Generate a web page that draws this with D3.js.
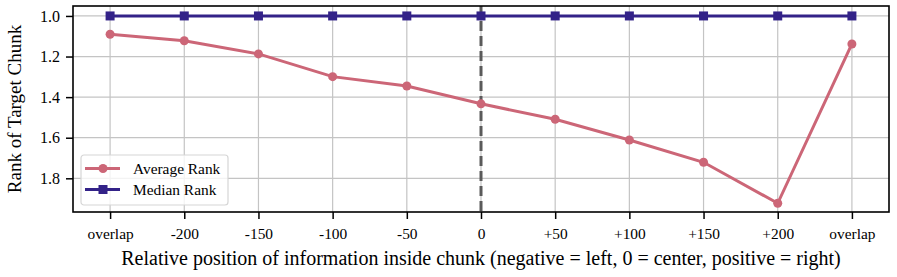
<!doctype html>
<head>
  <script src="https://cdnjs.cloudflare.com/ajax/libs/d3/7.8.5/d3.min.js"></script>
  <style>
    body { margin: 0; background: #fff; }
    svg { font-family: "Liberation Serif", "DejaVu Serif", serif; }
  </style>
</head>
<body>
  <svg class="chart" width="897" height="277"></svg>
  <script type="text/javascript">
    // chart data
    var positions = ["overlap", "-200", "-150", "-100", "-50", "0", "+50", "+100", "+150", "+200", "overlap"]
    var averageRank = [1.09, 1.122, 1.187, 1.299, 1.345, 1.433, 1.509, 1.611, 1.721, 1.923, 1.138]
    var medianRank = [1, 1, 1, 1, 1, 1, 1, 1, 1, 1, 1]
    var yTicks = [1.0, 1.2, 1.4, 1.6, 1.8]

    var plotL = 73, plotR = 889, plotT = 6, plotB = 212
    var svg = d3.select("svg")

    var x = d3.scaleLinear().domain([-0.5, positions.length - 0.5]).range([plotL, plotR])
    var y = d3.scaleLinear().domain([0.951, 1.966]).range([plotT, plotB])

    // grid
    svg.append("g").selectAll("line").data(yTicks).enter().append("line")
    .attr("x1", plotL).attr("x2", plotR)
    .attr("y1", d => y(d)).attr("y2", d => y(d))
    .style("stroke", "#c4c4c4").style("stroke-width", "1.2px")
    svg.append("g").selectAll("line").data(positions).enter().append("line")
    .attr("x1", (d, i) => x(i)).attr("x2", (d, i) => x(i))
    .attr("y1", plotT).attr("y2", plotB)
    .style("stroke", "#c4c4c4").style("stroke-width", "1.2px")

    // axes
    var xAxis = d3.axisBottom(x).tickValues(d3.range(positions.length))
    .tickFormat(i => positions[i]).tickSizeInner(7).tickSizeOuter(0).tickPadding(9)
    var gx = svg.append("g").attr("transform", "translate(0," + plotB + ")").call(xAxis)
    var yAxis = d3.axisLeft(y).tickValues(yTicks).tickFormat(d3.format(".1f"))
    .tickSizeInner(7).tickSizeOuter(0).tickPadding(6)
    var gy = svg.append("g").attr("transform", "translate(" + plotL + ",0)").call(yAxis)
    ;[gx, gy].forEach(g => {
      g.select(".domain").remove()
      g.selectAll(".tick line").style("stroke", "#000").style("stroke-width", "1.5px")
      g.selectAll("text").style("font-family", "Liberation Serif").style("font-size", "15.4px").style("fill", "#000")
    })
    gy.selectAll("text").style("font-size", "16px")

    // dashed center line
    svg.append("line")
    .attr("x1", x(5)).attr("x2", x(5)).attr("y1", plotT).attr("y2", plotB)
    .style("stroke", "#5a5a5a").style("stroke-width", "3px").style("stroke-dasharray", "10,5")

    var line = d3.line().x((d, i) => x(i)).y(d => y(d))

    svg.append("path").datum(averageRank).attr("d", line)
    .style("fill", "none").style("stroke", "#CC6677").style("stroke-width", "3px")
    svg.append("g").selectAll("circle").data(averageRank).enter().append("circle")
    .attr("cx", (d, i) => x(i)).attr("cy", d => y(d)).attr("r", 4.5)
    .style("fill", "#CC6677")

    svg.append("path").datum(medianRank).attr("d", line)
    .style("fill", "none").style("stroke", "#332288").style("stroke-width", "3px")
    svg.append("g").selectAll("rect").data(medianRank).enter().append("rect")
    .attr("x", (d, i) => x(i) - 4.5).attr("y", d => y(d) - 4.5).attr("width", 9).attr("height", 9)
    .style("fill", "#332288")

    // frame
    svg.append("rect").attr("x", plotL).attr("y", plotT).attr("width", plotR - plotL).attr("height", plotB - plotT)
    .style("fill", "none").style("stroke", "#000").style("stroke-width", "1.6px")

    // legend
    var legend = svg.append("g").attr("transform", "translate(81,155)")
    legend.append("rect").attr("width", 147).attr("height", 50).attr("rx", 3)
    .style("fill", "rgba(255,255,255,0.8)").style("stroke", "#d6d6d6").style("stroke-width", "1.2px")
    var items = [["Average Rank", "#CC6677", "circle"], ["Median Rank", "#332288", "square"]]
    items.forEach((it, k) => {
      var cy = 13.5 + k * 21
      legend.append("line").attr("x1", 4).attr("x2", 39).attr("y1", cy).attr("y2", cy)
      .style("stroke", it[1]).style("stroke-width", "3px")
      if (it[2] == "circle") legend.append("circle").attr("cx", 22).attr("cy", cy).attr("r", 4.5).style("fill", it[1])
      else legend.append("rect").attr("x", 17.5).attr("y", cy - 4.5).attr("width", 9).attr("height", 9).style("fill", it[1])
      legend.append("text").attr("x", 52).attr("y", cy).attr("dy", "0.35em").text(it[0])
      .style("font-size", "15.4px").style("fill", "#000")
    })

    // axis labels
    svg.append("text").attr("x", (plotL + plotR) / 2).attr("y", 265).attr("text-anchor", "middle")
    .style("font-size", "20px").text("Relative position of information inside chunk (negative = left, 0 = center, positive = right)")
    svg.append("text").attr("transform", "translate(21," + (plotT + plotB) / 2 + ") rotate(-90)")
    .attr("text-anchor", "middle").style("font-size", "19px").text("Rank of Target Chunk")
  </script>
</body>
</html>
